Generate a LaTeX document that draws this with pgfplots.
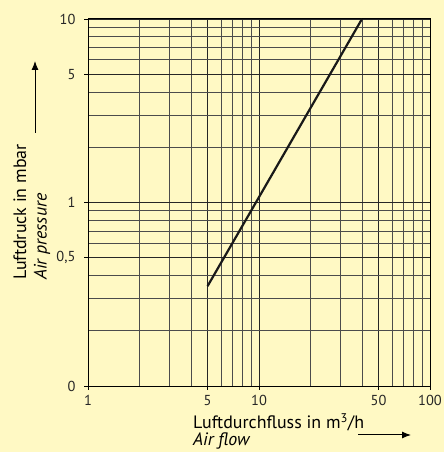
\documentclass[border=0pt]{standalone}
\usepackage{pgfplots}
\pgfplotsset{compat=1.18}
\usetikzlibrary{arrows.meta}
\usepackage{fontspec}
\setmainfont{PT Sans}
\definecolor{bg}{RGB}{255,249,196}
\begin{document}
\begin{tikzpicture}[x=1bp,y=1bp]
\fill[bg] (0,0) rectangle (444,452);
\useasboundingbox (0,0) rectangle (444,452);
\begin{axis}[
  at={(88bp,66bp)}, anchor=south west,
  scale only axis, width=342bp, height=367bp,
  xmode=log, ymode=log,
  xmin=1, xmax=100, ymin=0.1, ymax=10,
  xtick={1,5,10,50,100}, xticklabels={1,5,10,50,100},
  ytick={0.1,0.5,1,5,10}, yticklabels={0,{0,5},1,5,10},
  minor xtick={2,3,4,6,7,8,9,20,30,40,60,70,80,90},
  minor ytick={0.2,0.3,0.4,0.6,0.7,0.8,0.9,2,3,4,6,7,8,9},
  grid=both,
  major grid style={black!85, line width=0.9bp},
  minor grid style={black!70, line width=0.8bp},
  axis line style={black, line width=1bp},
  tick align=outside, major tick length=4bp, minor tick length=0pt,
  tick style={black, line width=0.9bp},
  xtick pos=bottom, ytick pos=left,
  ticklabel style={font=\fontsize{14.5}{15}\selectfont, text=black!85},
  xticklabel style={yshift=-2bp},
  yticklabel style={xshift=-5bp},
  /pgf/number format/assume math mode=true,
  clip=false,
]
\addplot[black!90, line width=2.2bp] coordinates {(5,0.35) (40,10)};
\end{axis}
\node[anchor=west, inner sep=0pt, font=\fontsize{18}{19}\selectfont] at (193,30) {Luftdurchfluss in m\textsuperscript{3}/h};
\node[anchor=west, inner sep=0pt, font=\fontsize{18}{19}\selectfont\itshape] at (193,11) {Air flow};
\draw[black, line width=1bp, -{Latex[length=9bp,width=7bp]}] (358,17) -- (411,17);
\node[rotate=90, anchor=west, inner sep=0pt, font=\fontsize{18}{19}\selectfont] at (20,172) {Luftdruck in mbar};
\node[rotate=90, anchor=west, inner sep=0pt, font=\fontsize{18}{19}\selectfont\itshape] at (42,172) {Air pressure};
\draw[black, line width=1bp, -{Latex[length=9bp,width=7bp]}] (35,319) -- (35,391);
\end{tikzpicture}
\end{document}
